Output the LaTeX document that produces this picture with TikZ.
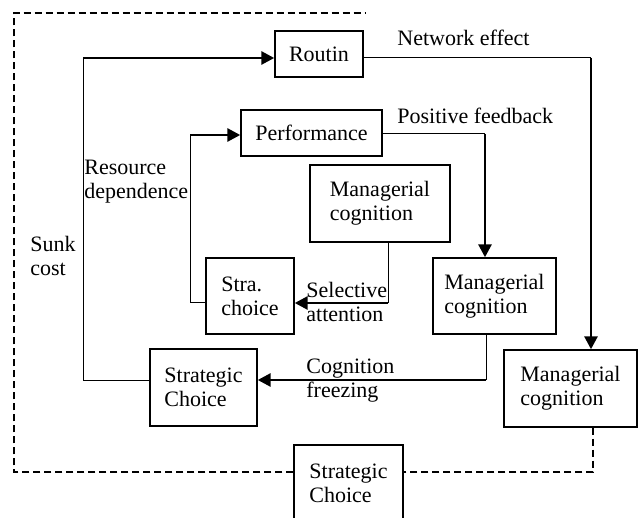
\documentclass[tikz,border=0pt]{standalone}
\usepackage{fontspec}
\setmainfont{Liberation Serif}
\usetikzlibrary{arrows.meta}

\begin{document}
\begin{tikzpicture}[
  x=0.5pt, y=-0.5pt,
  box/.style = {draw, line width=0.7pt, align=left, inner sep=0pt, font=\fontsize{11}{12}\selectfont},
  lbl/.style = {inner sep=0pt, align=left, font=\fontsize{11}{12}\selectfont},
  conn/.style = {line width=0.5pt},
  flow/.style = {line width=1.4pt, -{Triangle[length=6.5pt, width=6.5pt]}},
  frame/.style = {line width=0.9pt, dash pattern=on 3.5pt off 2pt}
  ]
  \useasboundingbox (0,0) rectangle (638,518);

    % Boxes
  \node[box, minimum width=44pt, minimum height=23pt] (routin) at (319,54) {Routin};
  \node[box, minimum width=70.5pt, minimum height=23pt] (perf) at (311.5,133) {Performance};
  \node[box, minimum width=70pt, minimum height=38.5pt] (mcA) at (380,203.5) {Managerial\\cognition};
  \node[box, minimum width=44pt, minimum height=38pt] (straC) at (250,296) {Stra.\\choice};
  \node[box, minimum width=61.5pt, minimum height=38pt] (mcB) at (494.5,296) {Managerial\\cognition};
  \node[box, minimum width=53.5pt, minimum height=38.5pt] (scA) at (203.5,387.5) {Strategic\\Choice};
  \node[box, minimum width=66.5pt, minimum height=38.5pt] (mcC) at (570.5,388.5) {Managerial\\cognition};
  \node[box, minimum width=54.5pt, minimum height=38.5pt] (scB) at (348.5,483.5) {Strategic\\Choice};

    % Labels
  \node[lbl, anchor=base west] (netLbl) at (397,46) {Network effect};
  \node[lbl, anchor=base west] (posLbl) at (397,124) {Positive feedback};
  \node[lbl, anchor=base west] (resLbl) at (84,199) {Resource\\dependence};
  \node[lbl, anchor=base west] (sunkLbl) at (30,276) {Sunk\\cost};
  \node[lbl, anchor=base west] (selLbl) at (306,322) {Selective\\attention};
  \node[lbl, anchor=base west] (cogLbl) at (306,398) {Cognition\\freezing};

    % Sunk cost
  \coordinate (sunkTop) at (83,58);
  \draw[conn] ([yshift=3.5pt]scA.west) -| (sunkTop);
  \draw[flow] (sunkTop) -- ([yshift=-2pt]routin.west);

    % Resource dependence
  \coordinate (resTop) at (190,135);
  \draw[conn] ([yshift=-3.5pt]straC.west) -| (resTop);
  \draw[flow] (resTop) -- ([yshift=-1pt]perf.west);

    % Network effect
  \coordinate (netCorner) at (591,58);
  \draw[conn] ([yshift=-2pt]routin.east) -- (netCorner);
  \draw[flow] (netCorner) -- (netCorner |- mcC.north);

    % Positive feedback
  \coordinate (posCorner) at (485,134);
  \draw[conn] ([yshift=-0.5pt]perf.east) -- (posCorner);
  \draw[flow] (posCorner) -- (posCorner |- mcB.north);

    % Selective attention
  \coordinate (selCorner) at (388,303);
  \draw[conn] (mcA.south -| selCorner) -- (selCorner);
  \draw[flow] (selCorner) -- (straC.east |- selCorner);

    % Cognition freezing
  \coordinate (cogCorner) at (486,380);
  \draw[conn] (mcB.south -| cogCorner) -- (cogCorner);
  \draw[flow] (cogCorner) -- (scA.east |- cogCorner);

    % Dashed frame
  \coordinate (frameBR) at (593,472);
  \coordinate (frameBL) at (14,472);
  \coordinate (frameTL) at (14,13);
  \coordinate (frameEnd) at (365,13);
  \draw[frame] (mcC.south -| frameBR) |- (scB.east |- frameBR);
  \draw[frame] (scB.west |- frameBL) -- (frameBL) -- (frameTL) -- (frameEnd);

\end{tikzpicture}
\end{document}
